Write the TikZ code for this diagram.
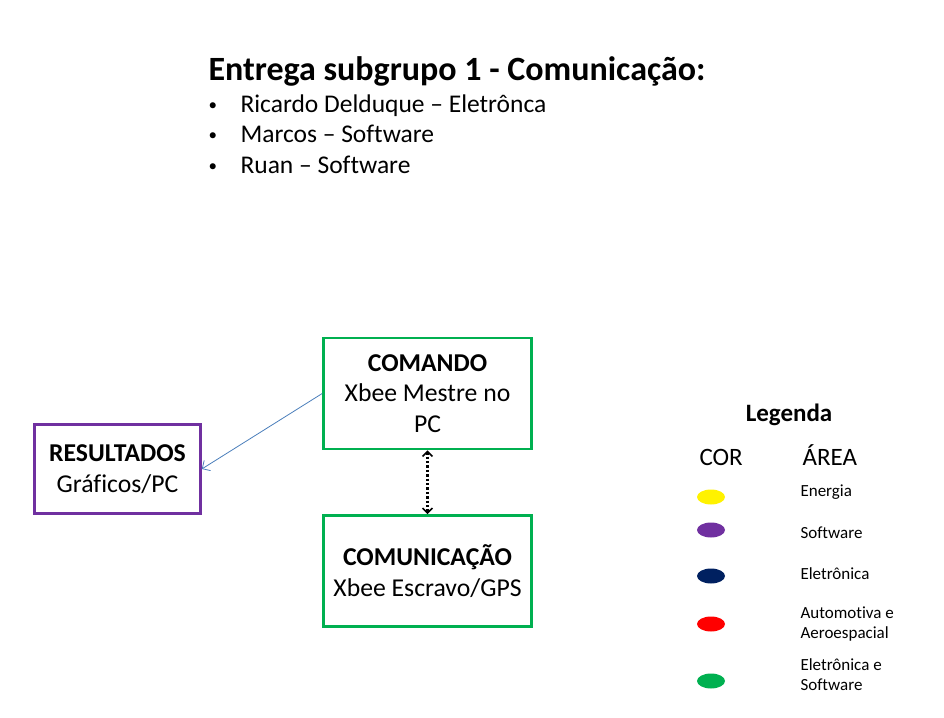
\documentclass[tikz,border=0pt]{standalone}
\usepackage{fontspec}
\setmainfont{Carlito}[Ligatures={NoCommon}]
\usetikzlibrary{positioning,arrows.meta,shapes.geometric}

\definecolor{boxgreen}{HTML}{00B050}
\definecolor{boxpurple}{HTML}{7030A0}
\definecolor{navy}{HTML}{002060}
\definecolor{linkblue}{HTML}{4A7EBB}

\tikzset{
  block/.style={draw, line width=2.6pt, fill=white, align=center,
    minimum width=208pt, minimum height=111pt, inner sep=2pt,
    font=\fontsize{25.7}{30.5}\selectfont},
  dot/.style={ellipse, minimum width=28pt, minimum height=15pt, inner sep=0pt},
  small/.style={anchor=west, align=left, font=\fontsize{17}{20}\selectfont},
  member/.style={anchor=base west, font=\fontsize{25.5}{30}\selectfont},
}

\begin{document}
\begin{tikzpicture}[x=1pt, y=-1pt]
    \useasboundingbox (0,0) rectangle (944,717);

    % title and members
    \node[anchor=base west, font=\fontsize{34}{40}\bfseries] (title) at (205,80) {Entrega subgrupo 1 - Comunicação:};
    \foreach \name/\yy in {Ricardo Delduque – Eletrônca/112, Marcos – Software/142, Ruan – Software/173} {
        \node[member, font=\fontsize{17}{20}\selectfont] at (205,\yy-2) {•};
        \node[member] at (237,\yy) {\name};
    }

    % blocks
    \node[block, draw=boxgreen] (cmd) at (427.5,393.5) {\textbf{COMANDO}\\Xbee Mestre no\\PC};
    \node[block, draw=boxgreen] (com) at (427.5,571) {\textbf{COMUNICAÇÃO}\\Xbee Escravo/GPS};
    \node[block, draw=boxpurple, minimum width=166pt, minimum height=89pt] (res) at (117.5,469) {\textbf{RESULTADOS}\\Gráficos/PC};

    % links
    \draw[linkblue, line width=0.8pt, -{Straight Barb[length=6pt,width=12pt]}] (cmd.west) -- (res.east);
    \draw[line width=2.4pt, dotted, {Straight Barb[length=5pt,width=10pt,line width=1.6pt]}-{Straight Barb[length=5pt,width=10pt,line width=1.6pt]}] (cmd.south) -- (com.north);

    % legend
    \node[font=\fontsize{25}{28}\bfseries] (leg) at (789,415) {Legenda};
    \node[anchor=base west, font=\fontsize{25}{28}\selectfont] (cor) at (696,465) {COR};
    \node[anchor=base west, font=\fontsize{25}{28}\selectfont] (area) at (799,465) {ÁREA};

    \node[dot, fill=yellow] (d1) at (711,497) {};
    \node[dot, fill=boxpurple] (d2) at (711,530) {};
    \node[dot, fill=navy] (d3) at (711,576) {};
    \node[dot, fill=red] (d4) at (711,624) {};
    \node[dot, fill=boxgreen] (d5) at (711,681) {};

    \node[small] (t1) at (797,492) {Energia};
    \node[small] (t2) at (797,533) {Software};
    \node[small] (t3) at (797,574) {Eletrônica};
    \node[small] (t4) at (797,624) {Automotiva e\\Aeroespacial};
    \node[small] (t5) at (797,675) {Eletrônica e\\Software};
\end{tikzpicture}
\end{document}
